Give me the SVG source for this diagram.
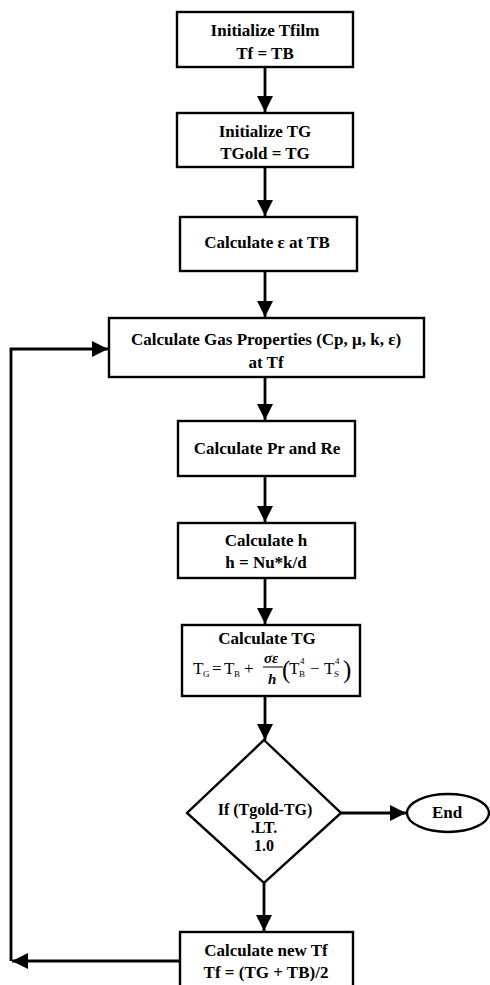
<svg xmlns="http://www.w3.org/2000/svg" width="490" height="985" viewBox="0 0 490 985">
<defs>
<style>
.box{fill:#fff;stroke:#000;stroke-width:2.4}
.t{font-family:"Liberation Serif","Times New Roman",serif;font-size:17px;font-weight:bold;text-anchor:middle;fill:#000}
.d{font-size:16px}
.f{font-family:"Liberation Serif","Times New Roman",serif;font-size:17px;fill:#000}
.fi{font-style:italic;font-weight:bold;font-size:15px}
.fp{font-size:25px}
.fs{font-family:"Liberation Serif","Times New Roman",serif;font-size:9px;fill:#000}
.c{fill:none;stroke:#000;stroke-width:2.8}
</style>
<marker id="ah" markerUnits="userSpaceOnUse" markerWidth="18" markerHeight="18" viewBox="0 0 18 18" refX="16" refY="9" orient="auto">
<path d="M0,1 L16,9 L0,17 Z" fill="#000"/>
</marker>
</defs>
<rect width="490" height="985" fill="#fff"/>
<g id="connectors">
<path class="c" d="M265,67 V112" marker-end="url(#ah)"/>
<path class="c" d="M265,167 V216" marker-end="url(#ah)"/>
<path class="c" d="M265,271 V317" marker-end="url(#ah)"/>
<path class="c" d="M265,377 V420" marker-end="url(#ah)"/>
<path class="c" d="M265,476 V522" marker-end="url(#ah)"/>
<path class="c" d="M265,578 V624" marker-end="url(#ah)"/>
<path class="c" d="M265,696 V740" marker-end="url(#ah)"/>
<path class="c" d="M341,813 H406" marker-end="url(#ah)"/>
<path class="c" d="M264,883 V931" marker-end="url(#ah)"/>
<path class="c" d="M180,961 H12" marker-end="url(#ah)"/>
<path class="c" d="M11,961 V349 H108" marker-end="url(#ah)"/>
</g>
<g id="n1">
<rect class="box" x="177" y="12" width="176" height="55"/>
<text class="t" x="265" y="36">Initialize Tfilm</text>
<text class="t" x="265" y="59">Tf = TB</text>
</g>
<g id="n2">
<rect class="box" x="177" y="113" width="176" height="54"/>
<text class="t" x="265" y="137">Initialize TG</text>
<text class="t" x="265" y="159">TGold = TG</text>
</g>
<g id="n3">
<rect class="box" x="180" y="217" width="177" height="54"/>
<text class="t" x="267" y="248">Calculate ε at TB</text>
</g>
<g id="n4">
<rect class="box" x="109" y="318" width="315" height="59"/>
<text class="t" x="266" y="345">Calculate Gas Properties (Cp, μ, k, ε)</text>
<text class="t" x="266" y="368">at Tf</text>
</g>
<g id="n5">
<rect class="box" x="178" y="421" width="177" height="55"/>
<text class="t" x="267" y="454">Calculate Pr and Re</text>
</g>
<g id="n6">
<rect class="box" x="178" y="523" width="177" height="55"/>
<text class="t" x="266" y="546">Calculate h</text>
<text class="t" x="266" y="568">h = Nu*k/d</text>
</g>
<g id="n7">
<rect class="box" x="182" y="625" width="178" height="71"/>
<text class="t" x="267" y="644">Calculate TG</text>
<text class="f" x="193" y="674">T</text>
<text class="fs" x="203" y="677">G</text>
<text class="f" x="212" y="674">=</text>
<text class="f" x="224" y="674">T</text>
<text class="fs" x="234" y="677">B</text>
<text class="f" x="244" y="674">+</text>
<text class="f fi" x="264" y="663">σε</text>
<line x1="263" y1="667" x2="283" y2="667" stroke="#000" stroke-width="1"/>
<text class="f fi" x="268" y="684">h</text>
<text class="f fp" x="282" y="678">(</text>
<text class="f" x="289" y="674">T</text>
<text class="fs" x="299" y="677">B</text>
<text class="fs" x="300" y="664">4</text>
<text class="f" x="310" y="674">−</text>
<text class="f" x="324" y="674">T</text>
<text class="fs" x="334" y="677">S</text>
<text class="fs" x="335" y="664">4</text>
<text class="f fp" x="343" y="678">)</text>
</g>
<g id="n8">
<polygon class="box" points="264,740 341,813 264,883 187,813"/>
<text class="t d" x="265" y="815">If (Tgold-TG)</text>
<text class="t d" x="264" y="833">.LT.</text>
<text class="t d" x="264" y="851">1.0</text>
</g>
<g id="n9">
<ellipse class="box" cx="448" cy="813" rx="41" ry="19"/>
<text class="t" x="447" y="818">End</text>
</g>
<g id="n10">
<rect class="box" x="180" y="932" width="173" height="60"/>
<text class="t" x="266" y="956">Calculate new Tf</text>
<text class="t" x="266" y="978">Tf = (TG + TB)/2</text>
</g>
</svg>
